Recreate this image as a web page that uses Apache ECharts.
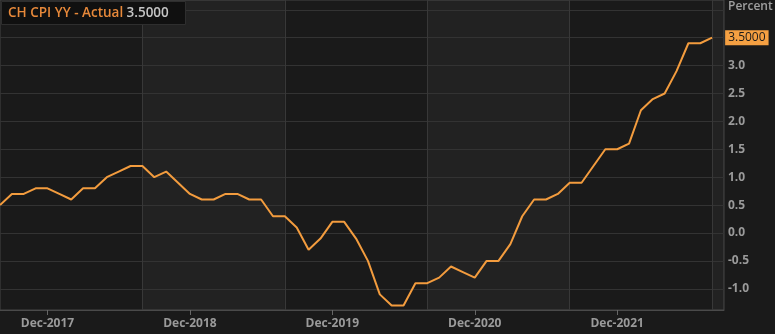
<!DOCTYPE html>
<html><head><meta charset="utf-8">
<script src="https://cdn.jsdelivr.net/npm/echarts@6/dist/echarts.min.js"></script>
<style>html,body{margin:0;padding:0;background:#1a1a1a}#c{width:775px;height:334px}</style>
</head><body><div id="c"></div>
<script>
const categories = [
 'Aug-2017','Sep-2017','Oct-2017','Nov-2017','Dec-2017',
 'Jan-2018','Feb-2018','Mar-2018','Apr-2018','May-2018','Jun-2018','Jul-2018','Aug-2018','Sep-2018','Oct-2018','Nov-2018','Dec-2018',
 'Jan-2019','Feb-2019','Mar-2019','Apr-2019','May-2019','Jun-2019','Jul-2019','Aug-2019','Sep-2019','Oct-2019','Nov-2019','Dec-2019',
 'Jan-2020','Feb-2020','Mar-2020','Apr-2020','May-2020','Jun-2020','Jul-2020','Aug-2020','Sep-2020','Oct-2020','Nov-2020','Dec-2020',
 'Jan-2021','Feb-2021','Mar-2021','Apr-2021','May-2021','Jun-2021','Jul-2021','Aug-2021','Sep-2021','Oct-2021','Nov-2021','Dec-2021',
 'Jan-2022','Feb-2022','Mar-2022','Apr-2022','May-2022','Jun-2022','Jul-2022','Aug-2022','Sep-2022'
];
const cpiValues = [
 0.5,0.7,0.7,0.8,0.8,
 0.7,0.6,0.8,0.8,1.0,1.1,1.2,1.2,1.0,1.1,0.9,0.7,
 0.6,0.6,0.7,0.7,0.6,0.6,0.3,0.3,0.1,-0.3,-0.1,0.2,
 0.2,-0.1,-0.5,-1.1,-1.3,-1.3,-0.9,-0.9,-0.8,-0.6,-0.7,-0.8,
 -0.5,-0.5,-0.2,0.3,0.6,0.6,0.7,0.9,0.9,1.2,1.5,1.5,
 1.6,2.2,2.4,2.5,2.9,3.4,3.4,3.5
];
const yTicks = [-1.0,-0.5,0.0,0.5,1.0,1.5,2.0,2.5,3.0];
const gridValues = [-1.0,-0.5,0.0,0.5,1.0,1.5,2.0,2.5,3.0,3.5,4.0];
const bandEdges = ['Aug-2018','Aug-2019','Aug-2020','Aug-2021','Aug-2022'];
const lightBands = [['Aug-2018','Aug-2019'],['Aug-2020','Aug-2021'],['Aug-2022','Sep-2022']];
const seriesName = 'CH CPI YY - Actual';
const lastVal = cpiValues[cpiValues.length-1].toFixed(4);

const chart = echarts.init(document.getElementById('c'));
const lblColor = '#9a9a9a';
chart.setOption({
  backgroundColor: '#1a1a1a',
  animation: false,
  textStyle: {fontFamily: 'Open Sans'},
  graphic: [
    {type: 'rect', shape: {x: 1.5, y: 1.5, width: 184, height: 23}, z: 20,
      style: {fill: '#101010', stroke: '#2e2e2e', lineWidth: 1}},
    {type: 'text', x: 8, y: 13, z: 21,
      style: {text: '{n|' + seriesName + '} {v|' + lastVal + '}', verticalAlign: 'middle',
        rich: {n: {fill: '#e8893a', font: '600 13.5px "Open Sans"'},
               v: {fill: '#c6c6c6', font: '600 13.5px "Open Sans"'}}}},
    {type: 'text', left: 728, top: 1, style: {text: 'Percent', fill: '#a0a0a0', font: '600 12px "Open Sans"'}}
  ],
  grid: {left: 0, right: 51, top: 0, bottom: 24, show: true, borderColor: '#444', borderWidth: 1, backgroundColor: 'transparent'},
  xAxis: {
    type: 'category', data: categories, boundaryGap: false,
    axisLine: {show: true, onZero: false, lineStyle: {color: '#4a4a4a'}},
    axisTick: {show: true, interval: (i, v) => v.startsWith('Dec'), length: 5, lineStyle: {color: '#666'}},
    axisLabel: {interval: (i, v) => v.startsWith('Dec'), color: lblColor, fontSize: 12, fontWeight: 'bold', margin: 8},
    splitLine: {show: false}
  },
  yAxis: {
    type: 'value', position: 'right', min: -1.38, max: 4.175,
    axisLine: {show: false}, axisTick: {show: false},
    axisLabel: {customValues: yTicks, formatter: v => v.toFixed(1), color: lblColor, fontSize: 12, fontWeight: 'bold', margin: 4, align: 'left'},
    splitLine: {show: false}
  },
  series: [
    {
      type: 'line', name: 'grid', data: [], silent: true, z: 1,
      markArea: {silent: true, itemStyle: {color: 'rgba(255,255,255,0.035)'},
        data: lightBands.map(b => [{xAxis: b[0]}, {xAxis: b[1]}])},
      markLine: {silent: true, symbol: 'none', label: {show: false},
        lineStyle: {color: '#333', type: 'solid', width: 1},
        data: gridValues.map(v => ({yAxis: v})).concat(bandEdges.map(e => ({xAxis: e, lineStyle: {color: '#383838'}})))}
    },
    {
      type: 'line', name: seriesName, data: cpiValues, z: 5,
      symbol: 'none', lineStyle: {color: '#f39c3e', width: 2}, itemStyle: {color: '#f39c3e'},
      endLabel: {show: true, distance: 13, formatter: p => Number(p.value).toFixed(4),
        backgroundColor: '#f5a042', color: '#1a1a1a', fontSize: 12, padding: [2, 3, 1, 3], fontFamily: 'Open Sans'}
    }
  ]
});
</script></body></html>
